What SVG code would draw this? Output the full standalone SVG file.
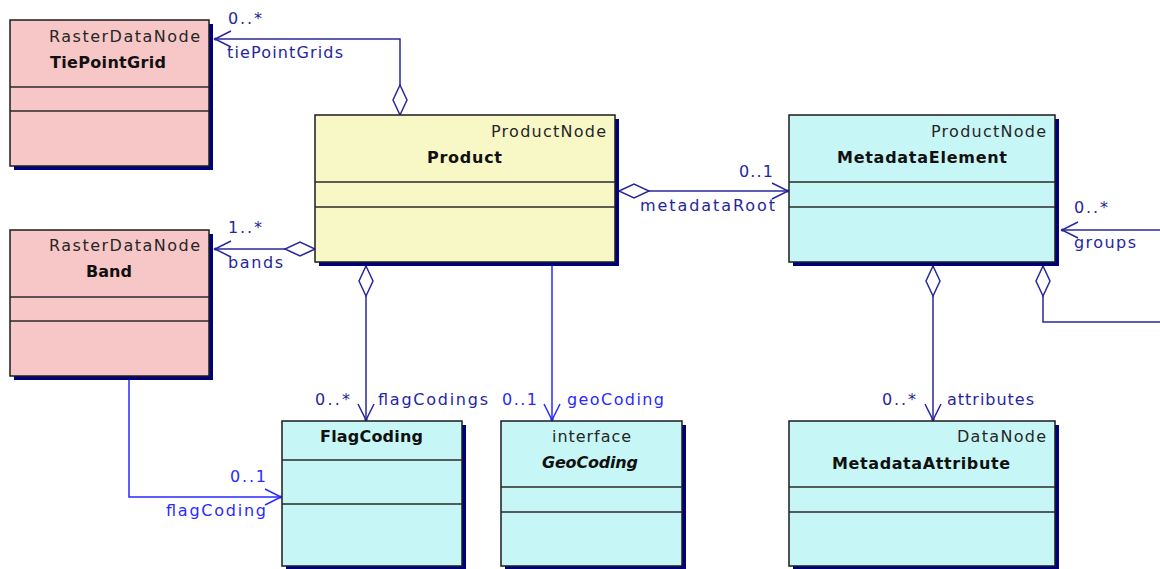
<svg xmlns="http://www.w3.org/2000/svg" width="1160" height="569" viewBox="0 0 1160 569">
  <style>
    .shadow { fill: #00007f; }
    .box { stroke: #1c1c1c; stroke-width: 1.5; }
    .pink { fill: #f7c6c6; }
    .yellow { fill: #f8f7c6; }
    .cyan { fill: #c7f6f6; }
    .div { stroke: #2a2a2a; stroke-width: 1.5; }
    .stereo { font-family: "DejaVu Sans", Verdana, sans-serif; font-size: 16px; fill: #262626; }
    .name { font-family: "DejaVu Sans", Verdana, sans-serif; font-size: 16px; font-weight: bold; fill: #111; }
    .ital { font-style: italic; }
    .link { fill: none; stroke: #28289c; stroke-width: 1.5; }
    .link.bright { stroke: #2a2aff; }
    .lbl { font-family: "DejaVu Sans", Verdana, sans-serif; font-size: 16px; fill: #26269c; }
    .lbl.bright { fill: #2a2aff; }
  </style>
  <defs>
    <marker id="diamond" markerUnits="userSpaceOnUse" viewBox="-2 -10 36 20" refX="0" refY="0" markerWidth="36" markerHeight="20" orient="auto">
      <path d="M0,0 L15,-7 L30,0 L15,7 Z" fill="#ffffff" stroke="#28289c" stroke-width="1.5"/>
    </marker>
    <marker id="arrow" markerUnits="userSpaceOnUse" viewBox="-20 -12 24 24" refX="0" refY="0" markerWidth="24" markerHeight="24" orient="auto">
      <path d="M-16,-8 L0,0 L-16,8" fill="none" stroke="#28289c" stroke-width="1.5"/>
      <circle cx="-0.5" cy="0" r="1.6" fill="#28289c"/>
    </marker>
    <marker id="arrowBright" markerUnits="userSpaceOnUse" viewBox="-20 -12 24 24" refX="0" refY="0" markerWidth="24" markerHeight="24" orient="auto">
      <path d="M-16,-8 L0,0 L-16,8" fill="none" stroke="#2a2aff" stroke-width="1.5"/>
      <circle cx="-0.5" cy="0" r="1.6" fill="#2a2aff"/>
    </marker>
  </defs>

  <rect width="1160" height="569" fill="#ffffff"/>

  <!-- associations -->
  <g id="connectors">
    <path class="link" d="M400,115 L400,39 L215,39" marker-start="url(#diamond)" marker-end="url(#arrow)"/>
    <path class="link" d="M315,249 L215,249" marker-start="url(#diamond)" marker-end="url(#arrow)"/>
    <path class="link" d="M619,191 L788,191" marker-start="url(#diamond)" marker-end="url(#arrow)"/>
    <path class="link" d="M366,266 L366,420" marker-start="url(#diamond)" marker-end="url(#arrow)"/>
    <path class="link bright" d="M552,266 L552,420" marker-end="url(#arrowBright)"/>
    <path class="link" d="M933,266 L933,420" marker-start="url(#diamond)" marker-end="url(#arrow)"/>
    <path class="link" d="M1043,266 L1043,322 L1160,322"  marker-start="url(#diamond)"/>
    <path class="link" d="M1160,230 L1062,230" marker-end="url(#arrow)"/>
    <path class="link bright" d="M129,380 L129,497 L281,497" marker-end="url(#arrowBright)"/>

    <text class="lbl" x="228" y="24" textLength="34">0..*</text>
    <text class="lbl" x="227" y="58" textLength="116">tiePointGrids</text>
    <text class="lbl" x="228" y="233" textLength="34">1..*</text>
    <text class="lbl" x="228" y="268" textLength="55">bands</text>
    <text class="lbl" x="739" y="177" textLength="34">0..1</text>
    <text class="lbl" x="640" y="211" textLength="135">metadataRoot</text>
    <text class="lbl" x="1074" y="213" textLength="34">0..*</text>
    <text class="lbl" x="1074" y="248" textLength="62">groups</text>
    <text class="lbl" x="315" y="405" textLength="35">0..*</text>
    <text class="lbl" x="378" y="405" textLength="110">flagCodings</text>
    <text class="lbl bright" x="502" y="405" textLength="35">0..1</text>
    <text class="lbl bright" x="567" y="405" textLength="97">geoCoding</text>
    <text class="lbl" x="882" y="405" textLength="34">0..*</text>
    <text class="lbl" x="947" y="405" textLength="87">attributes</text>
    <text class="lbl bright" x="230" y="482" textLength="36">0..1</text>
    <text class="lbl bright" x="166" y="516" textLength="100">flagCoding</text>
  </g>

  <g id="tiePointGrid">
    <rect class="shadow" x="14" y="24" width="199" height="146"/>
    <rect class="box pink" x="10" y="20" width="199" height="146"/>
    <line class="div" x1="10" y1="87" x2="209" y2="87"/>
    <line class="div" x1="10" y1="111" x2="209" y2="111"/>
    <text class="stereo" x="49" y="42" textLength="151">RasterDataNode</text>
    <text class="name" x="50" y="68" textLength="116">TiePointGrid</text>
  </g>

  <g id="band">
    <rect class="shadow" x="14" y="234" width="199" height="146"/>
    <rect class="box pink" x="10" y="230" width="199" height="146"/>
    <line class="div" x1="10" y1="297" x2="209" y2="297"/>
    <line class="div" x1="10" y1="321" x2="209" y2="321"/>
    <text class="stereo" x="49" y="251" textLength="151">RasterDataNode</text>
    <text class="name" x="86" y="277" textLength="46">Band</text>
  </g>

  <g id="product">
    <rect class="shadow" x="319" y="119" width="300" height="147"/>
    <rect class="box yellow" x="315" y="115" width="300" height="147"/>
    <line class="div" x1="315" y1="182" x2="615" y2="182"/>
    <line class="div" x1="315" y1="207" x2="615" y2="207"/>
    <text class="stereo" x="491" y="137" textLength="115">ProductNode</text>
    <text class="name" x="427" y="163" textLength="75">Product</text>
  </g>

  <g id="metadataElement">
    <rect class="shadow" x="793" y="119" width="266" height="147"/>
    <rect class="box cyan" x="789" y="115" width="266" height="147"/>
    <line class="div" x1="789" y1="182" x2="1055" y2="182"/>
    <line class="div" x1="789" y1="207" x2="1055" y2="207"/>
    <text class="stereo" x="931" y="137" textLength="115">ProductNode</text>
    <text class="name" x="837" y="163" textLength="170">MetadataElement</text>
  </g>

  <g id="flagCoding">
    <rect class="shadow" x="286" y="425" width="180" height="145"/>
    <rect class="box cyan" x="282" y="421" width="180" height="145"/>
    <line class="div" x1="282" y1="460" x2="462" y2="460"/>
    <line class="div" x1="282" y1="504" x2="462" y2="504"/>
    <text class="name" x="320" y="442" textLength="103">FlagCoding</text>
  </g>

  <g id="geoCoding">
    <rect class="shadow" x="505" y="425" width="181" height="145"/>
    <rect class="box cyan" x="501" y="421" width="181" height="145"/>
    <line class="div" x1="501" y1="487" x2="682" y2="487"/>
    <line class="div" x1="501" y1="512" x2="682" y2="512"/>
    <text class="stereo" x="552" y="442" textLength="79">interface</text>
    <text class="name ital" x="542" y="468" textLength="96">GeoCoding</text>
  </g>

  <g id="metadataAttribute">
    <rect class="shadow" x="793" y="425" width="266" height="145"/>
    <rect class="box cyan" x="789" y="421" width="266" height="145"/>
    <line class="div" x1="789" y1="487" x2="1055" y2="487"/>
    <line class="div" x1="789" y1="512" x2="1055" y2="512"/>
    <text class="stereo" x="957" y="442" textLength="89">DataNode</text>
    <text class="name" x="832" y="469" textLength="178">MetadataAttribute</text>
  </g>
</svg>
